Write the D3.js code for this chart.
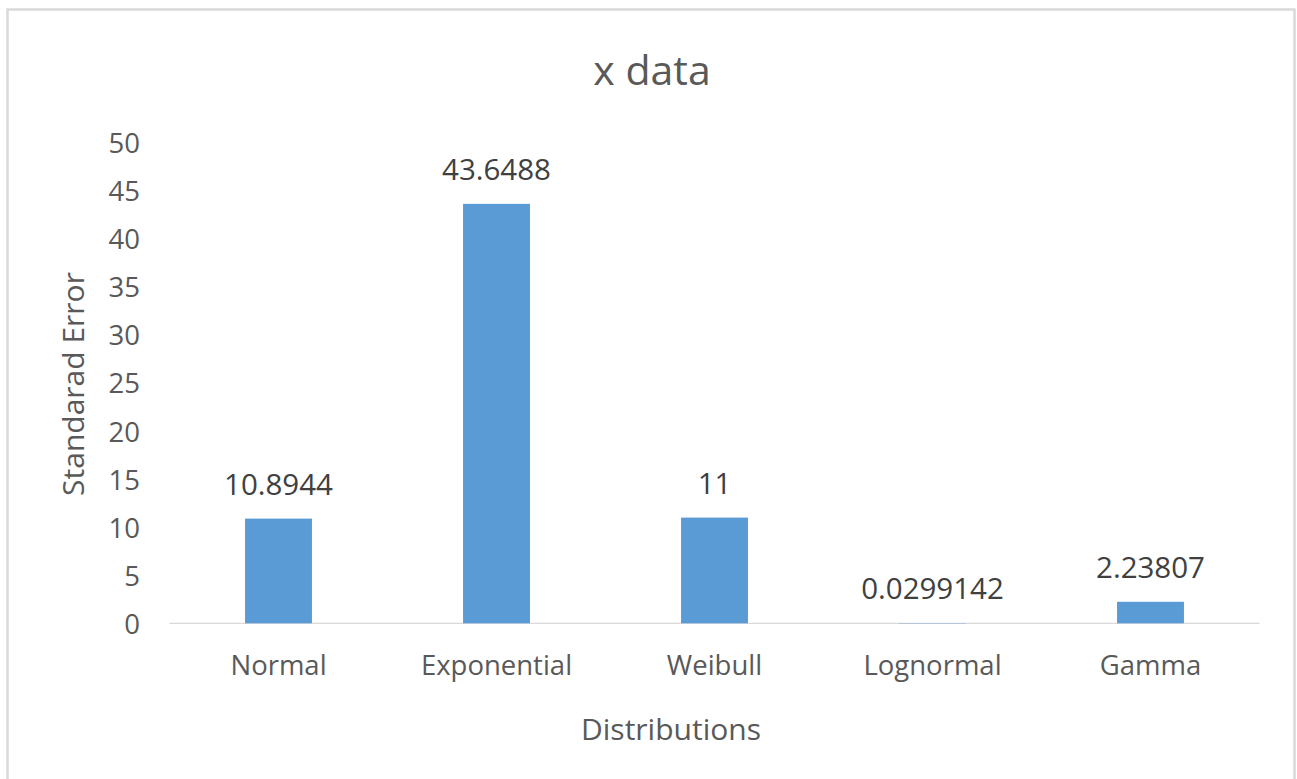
<!DOCTYPE html>
<html>
<head>
<meta charset="utf-8">
<script src="https://cdn.jsdelivr.net/npm/d3@7"></script>
<style>
  html, body { margin: 0; padding: 0; background: #fff; }
  svg { display: block; font-family: "Open Sans", sans-serif; }
</style>
</head>
<body>
<svg id="chart" width="1297" height="779"></svg>
<script>
// Standard error of each fitted distribution
const categories = ["Normal", "Exponential", "Weibull", "Lognormal", "Gamma"];
const values = [10.8944, 43.6488, 11, 0.0299142, 2.23807];
const valueLabels = ["10.8944", "43.6488", "11", "0.0299142", "2.23807"];
const yTicks = [0, 5, 10, 15, 20, 25, 30, 35, 40, 45, 50];

const svg = d3.select("#chart");

// chart frame
svg.append("rect")
  .attr("x", 7.5).attr("y", 9.5)
  .attr("width", 1287).attr("height", 790)
  .attr("fill", "#fff")
  .attr("stroke", "#d9d9d9")
  .attr("stroke-width", 2.5);

const plot = { left: 169.5, right: 1259.5, top: 142.8, bottom: 623.3 };

const x = d3.scaleBand()
  .domain(categories)
  .range([plot.left, plot.right])
  .paddingInner(0.693)
  .paddingOuter(0.3465);

const y = d3.scaleLinear()
  .domain([0, 50])
  .range([plot.bottom, plot.top]);

// title
svg.append("text")
  .attr("x", 652).attr("y", 85)
  .attr("text-anchor", "middle")
  .attr("fill", "#595959")
  .style("font-size", "41px")
  .text("x data");

// y axis tick labels
const yAxis = svg.append("g")
  .attr("transform", `translate(140,0)`)
  .call(d3.axisLeft(y).tickValues(yTicks).tickSize(0).tickPadding(0).tickFormat(d3.format("d")));
yAxis.select(".domain").remove();
yAxis.selectAll("text")
  .attr("fill", "#595959")
  .attr("dy", "0.36em")
  .style("font-size", "27.5px")
  .style("font-family", "'Open Sans', sans-serif");

// baseline at zero
svg.append("line")
  .attr("x1", plot.left).attr("x2", plot.right)
  .attr("y1", y(0)).attr("y2", y(0))
  .attr("stroke", "#d9d9d9")
  .attr("stroke-width", 1.3);

// bars
svg.append("g").selectAll("rect")
  .data(values)
  .join("rect")
  .attr("x", (d, i) => x(categories[i]))
  .attr("width", x.bandwidth())
  .attr("y", d => y(d))
  .attr("height", d => y(0) - y(d))
  .attr("fill", "#5b9bd5");

// value labels
svg.append("g").selectAll("text")
  .data(values)
  .join("text")
  .attr("x", (d, i) => x(categories[i]) + x.bandwidth() / 2)
  .attr("y", d => y(d) - 24)
  .attr("text-anchor", "middle")
  .attr("fill", "#404040")
  .style("font-size", "29.5px")
  .text((d, i) => valueLabels[i]);

// x axis category labels
const xAxis = svg.append("g")
  .attr("transform", `translate(0,${y(0)})`)
  .call(d3.axisBottom(x).tickSize(0).tickPadding(0));
xAxis.select(".domain").remove();
xAxis.selectAll("text")
  .attr("y", 675 - y(0))
  .attr("dy", 0)
  .attr("fill", "#595959")
  .style("font-size", "27.5px")
  .style("font-family", "'Open Sans', sans-serif");

// axis titles
svg.append("text")
  .attr("transform", "translate(84,384) rotate(-90)")
  .attr("text-anchor", "middle")
  .attr("fill", "#595959")
  .style("font-size", "30px")
  .text("Standarad Error");

svg.append("text")
  .attr("x", 671).attr("y", 740)
  .attr("text-anchor", "middle")
  .attr("fill", "#595959")
  .style("font-size", "30px")
  .text("Distributions");
</script>
</body>
</html>
